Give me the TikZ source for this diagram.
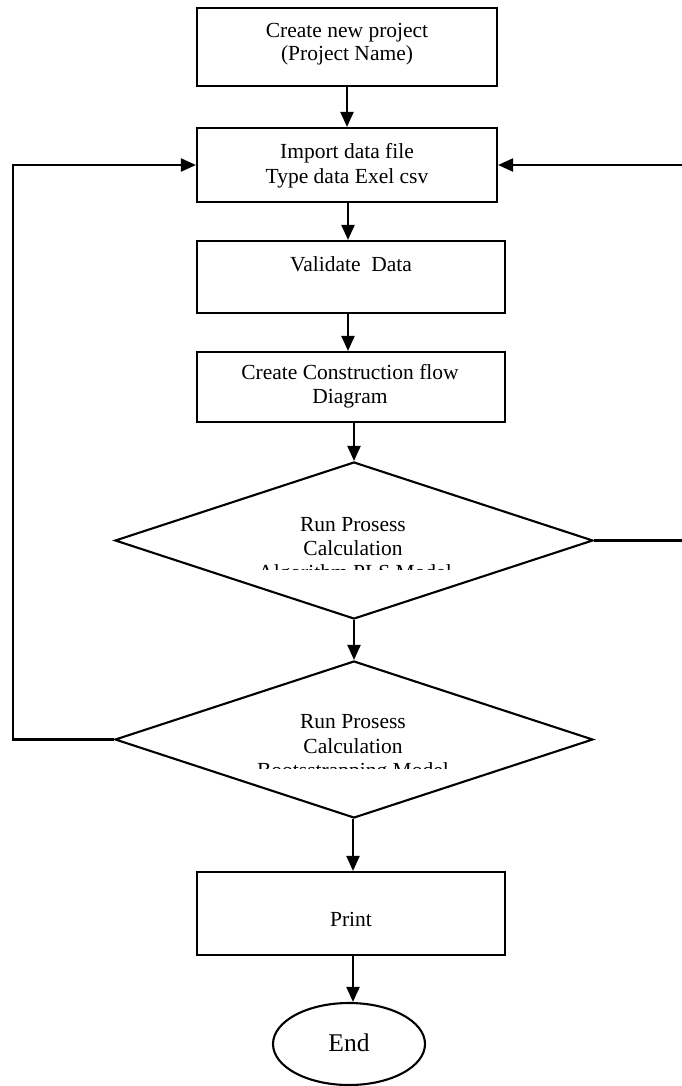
\documentclass[tikz,border=0pt]{standalone}
\usepackage{fontspec}
\setmainfont{Liberation Serif}
\usetikzlibrary{arrows.meta,shapes.geometric}
\begin{document}
\begin{tikzpicture}[x=1pt,y=-1pt,
  ln/.style={line width=2.1pt},
  arr/.style={ln,-{Triangle[length=15pt,width=13pt]}},
  procbox/.style={draw,ln,rectangle,inner sep=0pt},
  decbox/.style={draw,ln,diamond,inner sep=0pt,minimum width=478pt,minimum height=157pt,aspect=3.04},
  endbox/.style={draw,ln,ellipse,inner sep=0pt,minimum width=152pt,minimum height=82pt},
  txt/.style={anchor=base,inner sep=0pt,font=\fontsize{21.5}{24}\selectfont},
]
\useasboundingbox (0,0) rectangle (681,1086);
% boxes
\node[procbox,minimum width=300pt,minimum height=78pt] (b1) at (347,47) {};
\node[procbox,minimum width=300pt,minimum height=74pt] (b2) at (347,165) {};
\node[procbox,minimum width=308pt,minimum height=72pt] (b3) at (351,277) {};
\node[procbox,minimum width=308pt,minimum height=70pt] (b4) at (351,387) {};
\node[decbox] (d1) at (354,540.5) {};
\node[decbox] (d2) at (354,739.5) {};
\node[procbox,minimum width=308pt,minimum height=83pt] (b5) at (351,913.5) {};
\node[endbox] (e) at (349,1044) {};
% texts
\node[txt] (t1a) at (347,38) {Create new project};
\node[txt] (t1b) at (347,61) {(Project Name)};
\node[txt] (t2a) at (347,159) {Import data file};
\node[txt] (t2b) at (347,183) {Type data Exel csv};
\node[txt] (t3) at (351,271) {Validate\ \ Data};
\node[txt] (t4a) at (350,379) {Create Construction flow};
\node[txt] (t4b) at (350,403) {Diagram};
\node[txt] (t6a) at (353,531) {Run Prosess};
\node[txt] (t6b) at (353,555) {Calculation};
\begin{scope}
\clip (200,560) rectangle (500,569.5);
\node[txt] (t6c) at (355,579) {Algorithm PLS Model};
\end{scope}
\node[txt] (t7a) at (353,728) {Run Prosess};
\node[txt] (t7b) at (353,753) {Calculation};
\begin{scope}
\clip (200,757) rectangle (500,768.5);
\node[txt] (t7c) at (353,777) {Bootsstrapping Model};
\end{scope}
\node[txt] (t8) at (351,926) {Print};
\node[txt,font=\fontsize{25.5}{28}\selectfont] (t9) at (349,1051) {End};
% connectors
\draw[arr] (b1.south) -- (b2.north);
\draw[arr] ([xshift=1pt]b2.south) -- ([xshift=1pt]b2.south |- b3.north);
\draw[arr] ([xshift=-3pt]b3.south) -- ([xshift=-3pt]b3.south |- b4.north);
\draw[arr] ([xshift=3pt]b4.south) -- (d1.north);
\draw[arr] (d1.south) -- (d2.north);
\draw[arr] ([xshift=2pt]b5.north |- d2.south) -- ([xshift=2pt]b5.north);
\draw[arr] ([xshift=2pt]b5.south) -- ([xshift=2pt]b5.south |- e.north);
\coordinate (lc) at (13,739.5);
\coordinate (rc) at (686,540.5);
\draw[arr] (d2.west) -- (lc) -- (lc |- b2.west) -- (b2.west);
\draw[arr] (d1.east) -- (rc) -- (rc |- b2.east) -- (b2.east);
\end{tikzpicture}
\end{document}
